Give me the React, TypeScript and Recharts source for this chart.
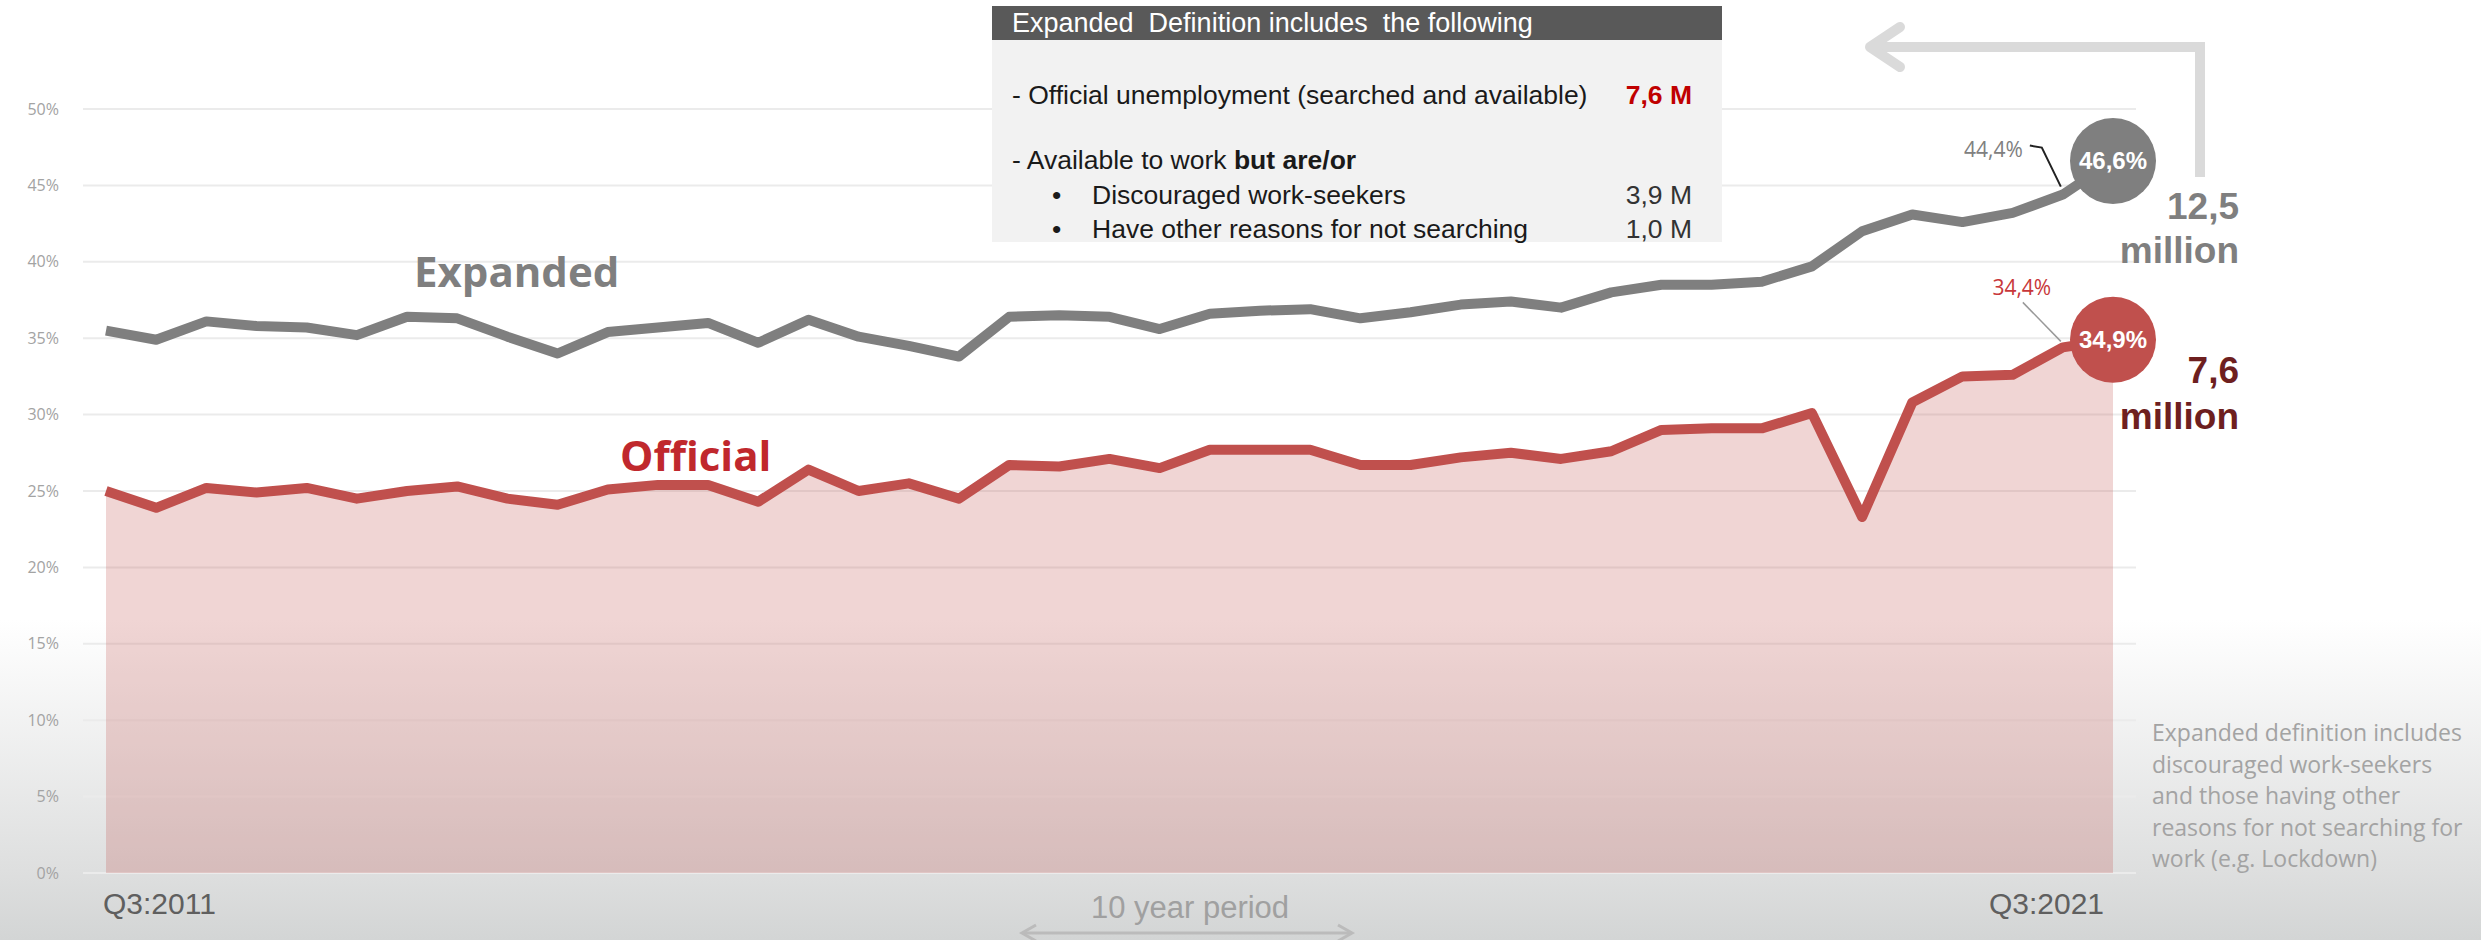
import React from 'react'
import { ComposedChart, Area, Line, XAxis, YAxis, CartesianGrid } from 'recharts'

// quarters from Q3:2011 to Q3:2021
const quarters = [
  'Q3:2011', 'Q4:2011',
  'Q1:2012', 'Q2:2012', 'Q3:2012', 'Q4:2012',
  'Q1:2013', 'Q2:2013', 'Q3:2013', 'Q4:2013',
  'Q1:2014', 'Q2:2014', 'Q3:2014', 'Q4:2014',
  'Q1:2015', 'Q2:2015', 'Q3:2015', 'Q4:2015',
  'Q1:2016', 'Q2:2016', 'Q3:2016', 'Q4:2016',
  'Q1:2017', 'Q2:2017', 'Q3:2017', 'Q4:2017',
  'Q1:2018', 'Q2:2018', 'Q3:2018', 'Q4:2018',
  'Q1:2019', 'Q2:2019', 'Q3:2019', 'Q4:2019',
  'Q1:2020', 'Q2:2020', 'Q3:2020', 'Q4:2020',
  'Q1:2021', 'Q2:2021', 'Q3:2021',
]

const officialRate = [
  25.0, 23.9,
  25.2, 24.9, 25.2, 24.5,
  25.0, 25.3, 24.5, 24.1,
  25.1, 25.4, 25.4, 24.3,
  26.4, 25.0, 25.5, 24.5,
  26.7, 26.6, 27.1, 26.5,
  27.7, 27.7, 27.7, 26.7,
  26.7, 27.2, 27.5, 27.1,
  27.6, 29.0, 29.1, 29.1,
  30.1, 23.3, 30.8, 32.5,
  32.6, 34.4, 34.9,
]

const expandedRate = [
  35.5, 34.9,
  36.1, 35.8, 35.7, 35.2,
  36.4, 36.3, 35.1, 34.0,
  35.4, 35.7, 36.0, 34.7,
  36.2, 35.1, 34.5, 33.8,
  36.4, 36.5, 36.4, 35.6,
  36.6, 36.8, 36.9, 36.3,
  36.7, 37.2, 37.4, 37.0,
  38.0, 38.5, 38.5, 38.7,
  39.7, 42.0, 43.1, 42.6,
  43.2, 44.4, 46.6,
]

const yTicks = [0, 5, 10, 15, 20, 25, 30, 35, 40, 45, 50]
const xTicks = ['Q3:2011', 'Q3:2021']

const data = quarters.map((q, i) => ({
  q,
  official: officialRate[i],
  expanded: expandedRate[i],
}))

const lastIdx = quarters.length - 1
const calloutIdx = lastIdx - 1

const GREY = '#7f7f7f'
const RED = '#c0504d'
const SANS = '"Open Sans", "Liberation Sans", sans-serif'
const ARIAL = '"Liberation Sans", Arial, sans-serif'

const pct = (v: number) => v.toFixed(1).replace('.', ',') + '%'

function YTick({ y, payload }: any) {
  return (
    <text x={59} y={y} dy="0.35em" textAnchor="end" fill="#a3a3a3" fontSize={16} fontFamily={SANS}>
      {payload.value}%
    </text>
  )
}

function XTick({ x, y, payload }: any) {
  const first = payload.value === quarters[0]
  return (
    <text
      x={first ? x - 3 : x - 9}
      y={y + 22}
      dy="0.35em"
      textAnchor={first ? 'start' : 'end'}
      fill="#5f5f5f"
      fontSize={30}
      fontFamily={ARIAL}
    >
      {payload.value}
    </text>
  )
}

function expandedDot(props: any) {
  const { cx, cy, index, payload } = props
  if (index === lastIdx) {
    return (
      <g key="exp-end">
        <circle cx={cx} cy={cy} r={43} fill={GREY} />
        <text x={cx} y={cy} dy="0.35em" textAnchor="middle" fill="#fff" fontWeight="bold" fontSize={24} fontFamily={ARIAL}>
          {pct(payload.expanded)}
        </text>
      </g>
    )
  }
  if (index === calloutIdx) {
    return (
      <g key="exp-call">
        <text x={cx - 40} y={cy - 45} dy="0.35em" textAnchor="end" fill="#808080" fontSize={21} fontFamily={SANS}>
          {pct(payload.expanded)}
        </text>
        <polyline
          points={`${cx - 33},${cy - 49} ${cx - 21},${cy - 47} ${cx - 2},${cy - 8}`}
          fill="none"
          stroke="#222"
          strokeWidth={2}
        />
      </g>
    )
  }
  return <g key={`e${index}`} />
}

function officialDot(props: any) {
  const { cx, cy, index, payload } = props
  if (index === lastIdx) {
    return (
      <g key="off-end">
        <circle cx={cx} cy={cy} r={43} fill={RED} />
        <text x={cx} y={cy} dy="0.35em" textAnchor="middle" fill="#fff" fontWeight="bold" fontSize={24} fontFamily={ARIAL}>
          {pct(payload.official)}
        </text>
      </g>
    )
  }
  if (index === calloutIdx) {
    return (
      <g key="off-call">
        <text x={cx - 41} y={cy - 60} dy="0.35em" textAnchor="middle" fill="#c8373a" fontSize={21} fontFamily={SANS}>
          {pct(payload.official)}
        </text>
        <line x1={cx - 40} y1={cy - 45} x2={cx - 2} y2={cy - 6} stroke="#999" strokeWidth={1.5} />
      </g>
    )
  }
  return <g key={`o${index}`} />
}

const boxLine: React.CSSProperties = {
  position: 'absolute',
  lineHeight: '30px',
  whiteSpace: 'nowrap',
}

export default function App() {
  return (
    <div
      style={{
        position: 'relative',
        width: 2481,
        height: 940,
        overflow: 'hidden',
        background: 'linear-gradient(to bottom, #ffffff 0px, #ffffff 620px, #dedfdf 870px, #d3d5d5 940px)',
      }}
    >
      <style>{'body{margin:0;overflow:hidden}'}</style>

      <ComposedChart
        width={2481}
        height={940}
        data={data}
        margin={{ top: 109, right: 345, bottom: 7, left: 0 }}
      >
        <CartesianGrid horizontal vertical={false} stroke="#ebebeb" strokeWidth={2} />
        <XAxis
          dataKey="q"
          ticks={xTicks}
          interval={0}
          axisLine={false}
          tickLine={false}
          height={60}
          padding={{ left: 23, right: 23 }}
          tick={<XTick />}
        />
        <YAxis
          domain={[0, 50]}
          ticks={yTicks}
          axisLine={false}
          tickLine={false}
          width={83}
          tick={<YTick />}
        />
        <Line
          type="linear"
          dataKey="expanded"
          stroke={GREY}
          strokeWidth={10}
          strokeLinejoin="round"
          dot={expandedDot}
          activeDot={false}
          isAnimationActive={false}
        />
        <Area
          type="linear"
          dataKey="official"
          stroke={RED}
          strokeWidth={10}
          strokeLinejoin="round"
          fill={RED}
          fillOpacity={0.24}
          dot={officialDot}
          activeDot={false}
          isAnimationActive={false}
        />
      </ComposedChart>

      <svg width={2481} height={940} style={{ position: 'absolute', left: 0, top: 0, pointerEvents: 'none' }}>
        <text x={414} y={272} dy="0.35em" fill={GREY} fontWeight="bold" fontSize={42} fontFamily={SANS}>
          Expanded
        </text>
        <text x={620} y={456} dy="0.35em" fill="#c0282d" fontWeight="bold" fontSize={42} fontFamily={SANS}>
          Official
        </text>

        <text x={2239} y={206} dy="0.35em" textAnchor="end" fill={GREY} fontWeight="bold" fontSize={37} fontFamily={ARIAL}>
          12,5
        </text>
        <text x={2239} y={250} dy="0.35em" textAnchor="end" fill={GREY} fontWeight="bold" fontSize={37} fontFamily={ARIAL}>
          million
        </text>
        <text x={2239} y={370} dy="0.35em" textAnchor="end" fill="#6e1f1f" fontWeight="bold" fontSize={37} fontFamily={ARIAL}>
          7,6
        </text>
        <text x={2239} y={416} dy="0.35em" textAnchor="end" fill="#6e1f1f" fontWeight="bold" fontSize={37} fontFamily={ARIAL}>
          million
        </text>

        <polyline points="2200,177 2200,47 1872,47" fill="none" stroke="#dadada" strokeWidth={10} />
        <polyline points="1900,27 1870,47 1900,67" fill="none" stroke="#dadada" strokeWidth={10} strokeLinecap="round" strokeLinejoin="round" />

        <text x={1190} y={907} dy="0.35em" textAnchor="middle" fill="#a0a0a0" fontSize={31} fontFamily={ARIAL}>
          10 year period
        </text>
        <line x1={1024} y1={933} x2={1350} y2={933} stroke="#bbbbbb" strokeWidth={3} />
        <polyline points="1036,925 1022,933 1036,941" fill="none" stroke="#bbbbbb" strokeWidth={3} />
        <polyline points="1338,925 1352,933 1338,941" fill="none" stroke="#bbbbbb" strokeWidth={3} />
      </svg>

      <div
        style={{
          position: 'absolute',
          left: 992,
          top: 6,
          width: 730,
          height: 236,
          background: '#f2f2f2',
          fontFamily: ARIAL,
          fontSize: 26.5,
          color: '#1a1a1a',
        }}
      >
        <div style={{ background: '#595959', color: '#fff', height: 34, lineHeight: '34px', paddingLeft: 20, fontSize: 27, whiteSpace: 'pre' }}>
          {'Expanded  Definition includes  the following'}
        </div>
        <div style={{ ...boxLine, left: 20, top: 74 }}>- Official unemployment (searched and available)</div>
        <div style={{ ...boxLine, right: 30, top: 74, color: '#c00000', fontWeight: 'bold' }}>7,6 M</div>
        <div style={{ ...boxLine, left: 20, top: 139 }}>
          - Available to work <b>but are/or</b>
        </div>
        <div style={{ ...boxLine, left: 60, top: 174 }}>•</div>
        <div style={{ ...boxLine, left: 100, top: 174 }}>Discouraged work-seekers</div>
        <div style={{ ...boxLine, right: 30, top: 174, color: '#333' }}>3,9 M</div>
        <div style={{ ...boxLine, left: 60, top: 208 }}>•</div>
        <div style={{ ...boxLine, left: 100, top: 208 }}>Have other reasons for not searching</div>
        <div style={{ ...boxLine, right: 30, top: 208, color: '#333' }}>1,0 M</div>
      </div>

      <div
        style={{
          position: 'absolute',
          left: 2152,
          top: 717,
          fontFamily: SANS,
          fontSize: 23,
          lineHeight: '31.5px',
          color: '#a3a3a3',
          whiteSpace: 'nowrap',
        }}
      >
        <div>Expanded definition includes</div>
        <div>discouraged work-seekers</div>
        <div>and those having other</div>
        <div>reasons for not searching for</div>
        <div>work (e.g. Lockdown)</div>
      </div>
    </div>
  )
}
